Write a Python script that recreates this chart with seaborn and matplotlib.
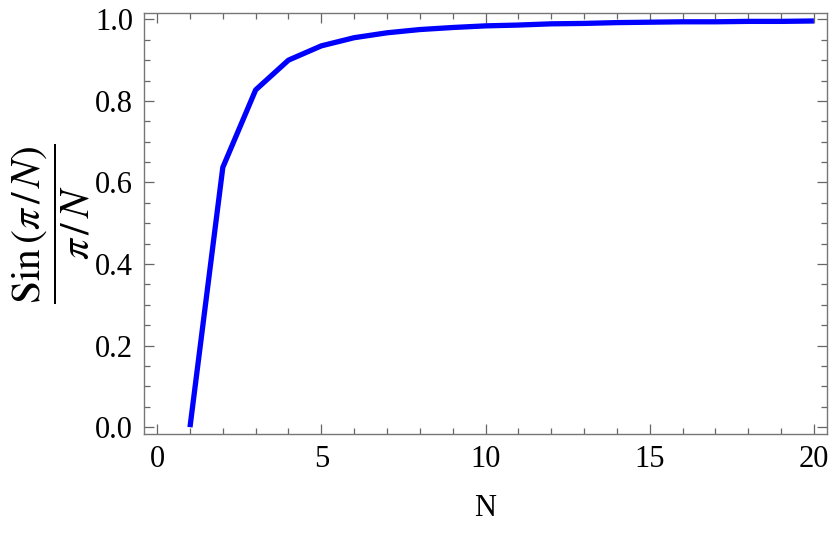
import matplotlib
matplotlib.use("Agg")
import matplotlib.pyplot as plt
import pandas as pd
import seaborn as sns
from matplotlib.ticker import MultipleLocator, FormatStrFormatter

# values
n_values = [1, 2, 3, 4, 5, 6, 7, 8, 9, 10, 11, 12, 13, 14, 15, 16, 17, 18, 19, 20]
ratio_values = [0.0, 0.637, 0.827, 0.900, 0.935, 0.955, 0.967, 0.975, 0.980, 0.984,
                0.986, 0.989, 0.990, 0.992, 0.993, 0.994, 0.994, 0.995, 0.995, 0.996]

df = pd.DataFrame({"N": n_values, "ratio": ratio_values})

sns.set_style("ticks")
plt.rcParams["font.family"] = ["Liberation Serif", "DejaVu Serif"]
plt.rcParams["mathtext.fontset"] = "stix"
plt.rcParams["text.color"] = "black"
plt.rcParams["axes.labelcolor"] = "black"
plt.rcParams["xtick.labelcolor"] = "black"
plt.rcParams["ytick.labelcolor"] = "black"

fig, ax = plt.subplots(figsize=(8.3, 5.36), dpi=100)
fig.subplots_adjust(left=0.1735, right=0.9964, top=0.9757, bottom=0.1903)

sns.lineplot(data=df, x="N", y="ratio", ax=ax, color="#0000ff", linewidth=3.8,
             solid_capstyle="butt")

ax.set_xlim(-0.4, 20.4)
ax.set_ylim(-0.0166, 1.0155)
ax.xaxis.set_major_locator(MultipleLocator(5))
ax.xaxis.set_minor_locator(MultipleLocator(1))
ax.yaxis.set_major_locator(MultipleLocator(0.2))
ax.yaxis.set_minor_locator(MultipleLocator(0.05))
ax.yaxis.set_major_formatter(FormatStrFormatter("%.1f"))

for side in ["left", "right", "top", "bottom"]:
    ax.spines[side].set_color("#777777")
    ax.spines[side].set_linewidth(1.0)

ax.tick_params(which="both", direction="in", top=True, right=True,
               color="#666666", labelsize=22, width=0.9)
ax.tick_params(which="major", length=7, pad=8)
ax.tick_params(which="minor", length=4)

ax.set_xlabel("N", fontsize=22, labelpad=14)
ax.set_ylabel(r"$\dfrac{\mathrm{Sin}\,(\pi\,/\,N)}{\pi\,/\,N}$", fontsize=30, labelpad=2)

plt.savefig("out.png", dpi=100)
